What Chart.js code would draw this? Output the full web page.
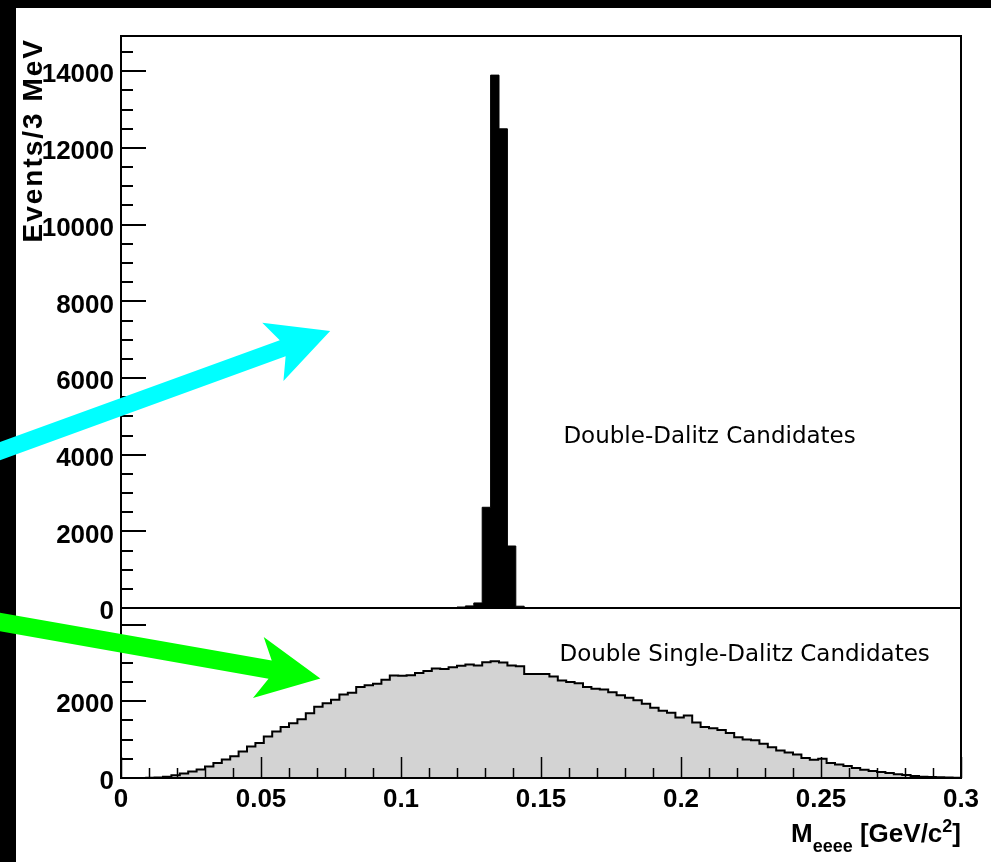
<!DOCTYPE html>
<html>
<head>
<meta charset="utf-8">
<script src="https://cdn.jsdelivr.net/npm/chart.js@4.4.1/dist/chart.umd.min.js"></script>
<style>
  html, body { margin: 0; padding: 0; background: #fff; }
  canvas { display: block; }
</style>
</head>
<body>
<canvas id="c" width="991" height="862"></canvas>
<script>
// ---- data ----
const binLowEdges = [
  0,0.003,0.006,0.009,0.012,0.015,0.018,0.021,0.024,0.027,
  0.03,0.033,0.036,0.039,0.042,0.045,0.048,0.051,0.054,0.057,
  0.06,0.063,0.066,0.069,0.072,0.075,0.078,0.081,0.084,0.087,
  0.09,0.093,0.096,0.099,0.102,0.105,0.108,0.111,0.114,0.117,
  0.12,0.123,0.126,0.129,0.132,0.135,0.138,0.141,0.144,0.147,
  0.15,0.153,0.156,0.159,0.162,0.165,0.168,0.171,0.174,0.177,
  0.18,0.183,0.186,0.189,0.192,0.195,0.198,0.201,0.204,0.207,
  0.21,0.213,0.216,0.219,0.222,0.225,0.228,0.231,0.234,0.237,
  0.24,0.243,0.246,0.249,0.252,0.255,0.258,0.261,0.264,0.267,
  0.27,0.273,0.276,0.279,0.282,0.285,0.288,0.291,0.294,0.297
];
const binUpperEdge = 0.3;

const doubleDalitzCounts = [
  0,0,0,0,0,0,0,0,0,0,
  0,0,0,0,0,0,0,0,0,0,
  0,0,0,0,0,0,0,0,0,0,
  0,0,0,0,0,0,0,0,0,13,
  29,58,135,2630,13900,12500,1620,50,8,0,
  0,0,0,0,0,0,0,0,0,0,
  0,0,0,0,0,0,0,0,0,0,
  0,0,0,0,0,0,0,0,0,0,
  0,0,0,0,0,0,0,0,0,0,
  0,0,0,0,0,0,0,0,0,0
];

const doubleSingleDalitzCounts = [
  0,0,0,5,15,30,70,120,170,220,
  300,390,480,570,690,820,910,1080,1210,1330,
  1430,1530,1690,1860,1950,2040,2180,2220,2370,2420,
  2455,2560,2670,2665,2680,2740,2790,2855,2840,2890,
  2925,2960,2935,3020,3045,3010,2935,2915,2715,2715,
  2715,2645,2545,2505,2470,2370,2330,2305,2235,2155,
  2090,2025,1935,1830,1755,1700,1575,1630,1450,1330,
  1300,1255,1175,1060,1005,985,890,805,720,668,
  615,520,477,500,390,355,310,260,215,180,
  155,130,95,80,50,35,25,17,10,5
];

const xTickValues = [0, 0.05, 0.1, 0.15, 0.2, 0.25, 0.3];
const xTickLabels = ['0', '0.05', '0.1', '0.15', '0.2', '0.25', '0.3'];
const yUpperTickValues = [0, 2000, 4000, 6000, 8000, 10000, 12000, 14000];
const yUpperTickLabels = ['0', '2000', '4000', '6000', '8000', '10000', '12000', '14000'];
const yLowerTickValues = [0, 2000];
const yLowerTickLabels = ['0', '2000'];

const xRange = [0, 0.3];
const yUpperRange = [0, 14920];
const yLowerRange = [0, 4430];

const yTitle = 'Events/3 MeV';
const upperPanelLabel = { text: 'Double-Dalitz Candidates', x: 0.158, y: 4305 };
const lowerPanelLabel = { text: 'Double Single-Dalitz Candidates', x: 0.1566, y: 3047 };

// arrows: tail/tip in data coordinates of their panel
const cyanArrow = { color: '#00ffff', tail: [-0.0504, 3906], tip: [0.0747, 7227] };
const greenArrow = { color: '#00ff00', tail: [-0.0504, 4161], tip: [0.0712, 2596] };

// ---- build histogram points ----
function histPoints(counts) {
  const pts = binLowEdges.map((x, i) => ({ x: x, y: counts[i] }));
  pts.push({ x: binUpperEdge, y: 0 });
  return pts;
}

const FONT = '"Liberation Sans", Arial, Helvetica, sans-serif';
const tickFont = { family: FONT, weight: 'bold', size: 26 };

function drawArrow(ctx, tail, tip, shaftHalf, headLen, barb, headHalf, color) {
  const dx = tip[0] - tail[0], dy = tip[1] - tail[1];
  const L = Math.hypot(dx, dy);
  const ux = dx / L, uy = dy / L;
  const vx = -uy, vy = ux;
  const cx = tip[0] - ux * headLen, cy = tip[1] - uy * headLen;
  const nx = tip[0] - ux * (headLen - barb), ny = tip[1] - uy * (headLen - barb);
  ctx.beginPath();
  ctx.moveTo(tail[0] + vx * shaftHalf, tail[1] + vy * shaftHalf);
  ctx.lineTo(nx + vx * shaftHalf, ny + vy * shaftHalf);
  ctx.lineTo(cx + vx * headHalf, cy + vy * headHalf);
  ctx.lineTo(tip[0], tip[1]);
  ctx.lineTo(cx - vx * headHalf, cy - vy * headHalf);
  ctx.lineTo(nx - vx * shaftHalf, ny - vy * shaftHalf);
  ctx.lineTo(tail[0] - vx * shaftHalf, tail[1] - vy * shaftHalf);
  ctx.closePath();
  ctx.fillStyle = color;
  ctx.fill();
}

const backgroundPlugin = {
  id: 'bg',
  beforeDraw(chart) {
    const ctx = chart.ctx;
    ctx.save();
    ctx.fillStyle = '#fff';
    ctx.fillRect(0, 0, chart.width, chart.height);
    ctx.fillStyle = '#000';
    ctx.fillRect(0, 0, chart.width, 8);
    ctx.fillRect(0, 0, 16, chart.height);
    ctx.restore();
  }
};

const framePlugin = {
  id: 'rootFrame',
  afterDatasetsDraw(chart) {
    const { ctx, chartArea: a, scales } = chart;
    ctx.save();
    ctx.strokeStyle = '#000';
    // y ticks (inside the frame)
    const yMinorStep = 500, yMajorStep = 2000;
    [[scales.yUp, yUpperRange], [scales.yLow, yLowerRange]].forEach(([s, r]) => {
      ctx.lineWidth = 2;
      for (let v = r[0]; v <= r[1]; v += yMinorStep) {
        const y = Math.round(s.getPixelForValue(v));
        const len = (v % yMajorStep === 0) ? 25 : 12;
        ctx.beginPath();
        ctx.moveTo(a.left, y);
        ctx.lineTo(a.left + len, y);
        ctx.stroke();
      }
    });
    // x ticks (bottom axis, pointing up)
    const xs = scales.x;
    ctx.lineWidth = 1.5;
    for (let k = 0; k <= 30; k++) {
      const v = k / 100;
      const x = Math.round(xs.getPixelForValue(v)) + 0.5;
      const len = (k % 5 === 0) ? 21 : 10;
      ctx.beginPath();
      ctx.moveTo(x, a.bottom);
      ctx.lineTo(x, a.bottom - len);
      ctx.stroke();
    }
    // frame
    ctx.lineWidth = 2;
    ctx.strokeRect(a.left, a.top, a.right - a.left, a.bottom - a.top);
    // divider between the panels
    const yd = Math.round(scales.yUp.getPixelForValue(0));
    ctx.beginPath();
    ctx.moveTo(a.left, yd);
    ctx.lineTo(a.right, yd);
    ctx.stroke();
    ctx.restore();
  },
  afterDraw(chart) {
    const { ctx, chartArea: a, scales } = chart;
    const xs = scales.x, yu = scales.yUp, yl = scales.yLow;
    ctx.save();
    // panel labels
    ctx.fillStyle = '#000';
    ctx.font = '23px "DejaVu Sans", sans-serif';
    ctx.textAlign = 'left';
    ctx.textBaseline = 'alphabetic';
    ctx.fillText(upperPanelLabel.text, xs.getPixelForValue(upperPanelLabel.x), yu.getPixelForValue(upperPanelLabel.y));
    ctx.fillText(lowerPanelLabel.text, xs.getPixelForValue(lowerPanelLabel.x), yl.getPixelForValue(lowerPanelLabel.y));

    // y title
    ctx.save();
    ctx.translate(42, a.top + 2);
    ctx.rotate(-Math.PI / 2);
    ctx.font = 'bold 28px ' + FONT;
    try { ctx.letterSpacing = '2px'; } catch (e) {}
    ctx.textAlign = 'right';
    ctx.fillText(yTitle, 0, 0);
    ctx.restore();

    // x title  M_eeee [GeV/c^2]
    const big = 'bold 26px ' + FONT, small = 'bold 18px ' + FONT;
    const parts = [
      { t: 'M', f: big, dy: 0 },
      { t: 'eeee', f: small, dy: 10 },
      { t: ' [GeV/c', f: big, dy: 0 },
      { t: '2', f: small, dy: -10 },
      { t: ']', f: big, dy: 0 }
    ];
    let total = 0;
    parts.forEach(p => { ctx.font = p.f; p.w = ctx.measureText(p.t).width; total += p.w; });
    let x = a.right - total;
    const base = a.bottom + 64;
    ctx.textAlign = 'left';
    parts.forEach(p => { ctx.font = p.f; ctx.fillText(p.t, x, base + p.dy); x += p.w; });

    // arrows
    const px = (pt, ys) => [xs.getPixelForValue(pt[0]), ys.getPixelForValue(pt[1])];
    drawArrow(ctx, px(cyanArrow.tail, yu), px(cyanArrow.tip, yu), 8.6, 61, 10.5, 31, cyanArrow.color);
    drawArrow(ctx, px(greenArrow.tail, yl), px(greenArrow.tip, yl), 9.2, 63, 12, 31, greenArrow.color);
    ctx.restore();
  }
};

new Chart(document.getElementById('c'), {
  type: 'line',
  data: {
    datasets: [
      {
        label: 'Double-Dalitz Candidates',
        data: histPoints(doubleDalitzCounts),
        xAxisID: 'x', yAxisID: 'yUp',
        stepped: 'before',
        fill: 'origin',
        backgroundColor: '#000',
        borderColor: '#000',
        borderWidth: 1,
        pointRadius: 0,
        tension: 0
      },
      {
        label: 'Double Single-Dalitz Candidates',
        data: histPoints(doubleSingleDalitzCounts),
        xAxisID: 'x', yAxisID: 'yLow',
        stepped: 'before',
        fill: 'origin',
        backgroundColor: 'rgb(211,211,211)',
        borderColor: '#000',
        borderWidth: 2,
        pointRadius: 0,
        tension: 0
      }
    ]
  },
  options: {
    responsive: false,
    animation: false,
    events: [],
    layout: { padding: { left: 0, top: 36, right: 30, bottom: 0 } },
    plugins: { legend: { display: false }, tooltip: { enabled: false } },
    scales: {
      x: {
        type: 'linear', position: 'bottom',
        min: xRange[0], max: xRange[1],
        grid: { display: false, drawTicks: false },
        border: { display: false },
        afterBuildTicks: s => { s.ticks = xTickValues.map(v => ({ value: v })); },
        ticks: { autoSkip: false, maxRotation: 0, font: tickFont, color: '#000', padding: 6,
                 callback: (v, i) => xTickLabels[i] },
        afterFit: s => { s.height = 84; }
      },
      yLow: {
        type: 'linear', position: 'left', stack: 'panels',
        stackWeight: yLowerRange[1] - yLowerRange[0],
        min: yLowerRange[0], max: yLowerRange[1],
        grid: { display: false, drawTicks: false },
        border: { display: false },
        afterBuildTicks: s => { s.ticks = yLowerTickValues.map(v => ({ value: v })); },
        ticks: { autoSkip: false, font: tickFont, color: '#000', padding: 7, labelOffset: 4,
                 callback: (v, i) => yLowerTickLabels[i] },
        afterFit: s => { s.width = 121; }
      },
      yUp: {
        type: 'linear', position: 'left', stack: 'panels',
        stackWeight: yUpperRange[1] - yUpperRange[0],
        min: yUpperRange[0], max: yUpperRange[1],
        grid: { display: false, drawTicks: false },
        border: { display: false },
        afterBuildTicks: s => { s.ticks = yUpperTickValues.map(v => ({ value: v })); },
        ticks: { autoSkip: false, font: tickFont, color: '#000', padding: 7, labelOffset: 4,
                 callback: (v, i) => yUpperTickLabels[i] },
        afterFit: s => { s.width = 121; }
      }
    }
  },
  plugins: [backgroundPlugin, framePlugin]
});
</script>
</body>
</html>
